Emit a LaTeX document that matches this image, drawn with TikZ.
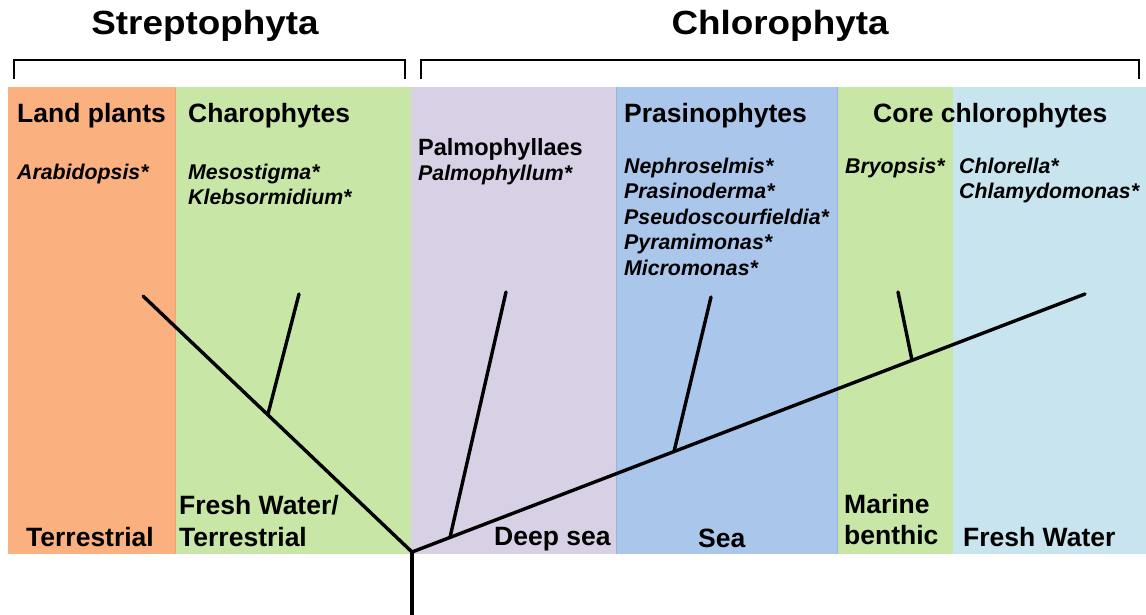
\documentclass[tikz,border=0pt]{standalone}
\usepackage{fontspec}
\setmainfont{Liberation Sans}
\definecolor{orangeband}{RGB}{251,177,127}
\definecolor{greenband}{RGB}{200,230,166}
\definecolor{purpleband}{RGB}{216,208,228}
\definecolor{blueband}{RGB}{170,198,234}
\definecolor{lightblueband}{RGB}{200,228,238}
\definecolor{blueedge}{RGB}{150,180,225}
\definecolor{orangeedge}{RGB}{240,165,110}
\begin{document}
\begin{tikzpicture}[x=1pt,y=-1pt,
  title/.style={anchor=base,inner sep=0pt,font=\bfseries\fontsize{33.5}{33.5}\selectfont},
  head/.style={anchor=base west,inner sep=0pt,font=\bfseries\fontsize{26.5}{26.5}\selectfont},
  sub/.style={anchor=base west,inner sep=0pt,font=\bfseries\fontsize{23.5}{23.5}\selectfont},
  taxon/.style={anchor=base west,inner sep=0pt,font=\bfseries\itshape\fontsize{21.3}{21.3}\selectfont},
  habitat/.style={anchor=base west,inner sep=0pt,font=\bfseries\fontsize{26.5}{26.5}\selectfont},
  branch/.style={line width=3.4pt,line cap=round},
  bracket/.style={line width=2pt,line join=miter}]
\useasboundingbox (0,0) rectangle (1146,614);
% bands
\fill[orangeband] (8,87) rectangle (175,554);
\fill[greenband] (175,87) rectangle (411,554);
\fill[purpleband] (411,87) rectangle (616,554);
\fill[blueband] (616,87) rectangle (838,554);
\fill[greenband] (838,87) rectangle (953,554);
\fill[lightblueband] (953,87) rectangle (1146,554);
\draw[orangeedge,line width=1pt] (175,87) -- (175,554);
\draw[blueedge,line width=1pt] (616.5,87) -- (616.5,554) (837.5,87) -- (837.5,554);
% titles and brackets
\node[title] (strep) at (205,34) {\scalebox{1.1}[1]{Streptophyta}};
\node[title] (chloro) at (780,34) {\scalebox{1.1}[1]{Chlorophyta}};
\coordinate (sbl) at (14,79); \coordinate (sbr) at (405,79);
\coordinate (cbl) at (421,79); \coordinate (cbr) at (1139,79);
\draw[bracket] (sbl) -- ++(0,-19) -| (sbr);
\draw[bracket] (cbl) -- ++(0,-19) -| (cbr);
% headers
\node[head] (landplants) at (17,122) {Land plants};
\node[head] (charo) at (188,122) {Charophytes};
\node[sub] (palmo) at (418,155) {Palmophyllaes};
\node[head] (prasino) at (624,122) {Prasinophytes};
\node[head] (core) at (873,122) {Core chlorophytes};
% taxa
\node[taxon] (arab) at (17,179) {Arabidopsis*};
\node[taxon] (meso) at (188,179) {Mesostigma*};
\node[taxon] (kleb) at (188,204) {Klebsormidium*};
\node[taxon] (palmum) at (418,180) {Palmophyllum*};
\node[taxon] (neph) at (624,173) {Nephroselmis*};
\node[taxon] (prder) at (624,198.5) {Prasinoderma*};
\node[taxon] (pseudo) at (624,224) {Pseudoscourfieldia*};
\node[taxon] (pyra) at (624,249.5) {Pyramimonas*};
\node[taxon] (micro) at (624,275) {Micromonas*};
\node[taxon] (bryo) at (845,173) {Bryopsis*};
\node[taxon] (chlor) at (959,173) {Chlorella*};
\node[taxon] (chlam) at (959,198.5) {Chlamydomonas*};
% habitats
\node[habitat] (terr) at (26,546) {Terrestrial};
\node[habitat] (fw1) at (179,514) {Fresh Water/};
\node[habitat] (fw2) at (179,546) {Terrestrial};
\node[habitat] (deep) at (494,545) {Deep sea};
\node[habitat] (sea) at (698,547) {Sea};
\node[habitat] (marine) at (844,513) {Marine};
\node[habitat] (benthic) at (844,544) {benthic};
\node[habitat] (fw3) at (963,546) {Fresh Water};
% tree
\coordinate (root) at (412,552);
\coordinate (base) at (412,616);
\coordinate (lp) at (143,296);
\coordinate (j1) at (268,414);
\coordinate (ch) at (299,294);
\coordinate (tip) at (1085,294);
\coordinate (j2) at (450,537.4);
\coordinate (pal) at (506,292);
\coordinate (j3) at (674,451.6);
\coordinate (pra) at (711,297);
\coordinate (j4) at (912,360.3);
\coordinate (bry) at (898,292);
\draw[branch,line cap=butt] (root) -- (base);
\draw[branch,line join=miter] (lp) -- (root) -- (tip);
\draw[branch] (j1) -- (ch);
\draw[branch] (j2) -- (pal);
\draw[branch] (j3) -- (pra);
\draw[branch] (j4) -- (bry);
\end{tikzpicture}
\end{document}
